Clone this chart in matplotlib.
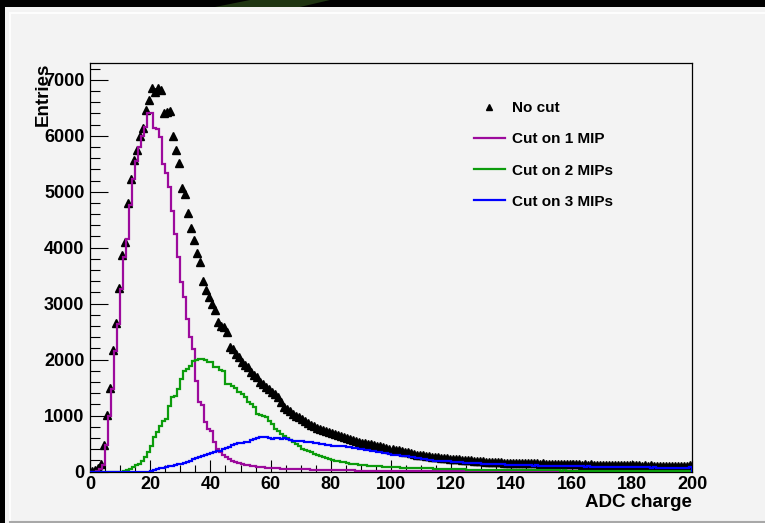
import numpy as np
import matplotlib
matplotlib.use("Agg")
import matplotlib.pyplot as plt
from matplotlib.patches import Rectangle, Polygon
from matplotlib.lines import Line2D
from matplotlib.ticker import MultipleLocator

plt.rcParams['font.family'] = ['Liberation Sans', 'DejaVu Sans']
plt.rcParams['font.weight'] = 'bold'

# ---------------- data (bin width 1 ADC, bins 0..199) ----------------
no_cut = [
    5, 20, 60, 130, 480, 1010, 1500, 2170, 2660, 3280,
    3860, 4100, 4800, 5220, 5575, 5754, 6000, 6140, 6466, 6644,
    6852, 6775, 6852, 6810, 6407, 6425, 6436, 6003, 5754, 5517,
    5071, 4952, 4626, 4359, 4138, 3913, 3735, 3408, 3250, 3112,
    2993, 2891, 2677, 2606, 2578, 2488, 2221, 2191, 2100, 2043,
    1954, 1910, 1865, 1776, 1716, 1687, 1598, 1560, 1509, 1478,
    1420, 1380, 1331, 1250, 1152, 1120, 1080, 1033, 1000, 970,
    944, 900, 860, 825, 805, 785, 765, 740, 720, 700,
    685, 670, 650, 630, 612, 600, 585, 565, 548, 529,
    518, 505, 495, 485, 469, 462, 450, 438, 425, 410,
    400, 390, 378, 362, 355, 345, 332, 318, 303, 298,
    290, 283, 276, 268, 262, 256, 250, 244, 238, 232,
    228, 222, 216, 212, 206, 202, 198, 193, 188, 184,
    180, 177, 173, 170, 167, 164, 162, 160, 158, 156,
    154, 150, 156, 148, 152, 146, 150, 143, 147, 140,
    144, 138, 142, 136, 140, 134, 137, 131, 135, 129,
    133, 127, 130, 125, 129, 122, 127, 121, 125, 118,
    123, 117, 121, 115, 119, 113, 117, 111, 116, 125,
    112, 108, 113, 106, 111, 104, 109, 103, 107, 101,
    106, 100, 104, 98, 103, 97, 101, 96, 100, 110,
]

cut_1mip = [
    0, 0, 10, 40, 120, 470, 1000, 1480, 2150, 2640,
    3260, 3830, 4150, 4770, 5220, 5540, 5790, 5990, 6160, 6410,
    6410, 6140, 6120, 5970, 5490, 5340, 5080, 4650, 4240, 3830,
    3380, 3120, 2720, 2400, 2190, 1620, 1250, 1180, 890, 760,
    730, 530, 410, 340, 290, 255, 220, 190, 165, 145,
    130, 118, 108, 100, 92, 85, 79, 73, 68, 64,
    60, 57, 54, 52, 50, 48, 46, 44, 42, 41,
    40, 38, 37, 35, 34, 32, 31, 29, 28, 26,
    25, 24, 23, 22, 21, 20, 19, 18, 17, 16,
    15, 15, 14, 14, 13, 13, 12, 12, 11, 11,
    10, 10, 9, 9, 8, 8, 7, 7, 6, 6,
    5, 5, 5, 4, 4, 4, 4, 3, 3, 3,
    3, 3, 3, 3, 2, 2, 2, 2, 2, 2,
    2, 2, 2, 2, 1, 1, 1, 1, 1, 1,
    1, 1, 1, 1, 1, 1, 1, 1, 1, 1,
    1, 1, 1, 1, 1, 1, 1, 1, 1, 1,
    1, 0, 0, 0, 0, 0, 0, 0, 0, 0,
    0, 0, 0, 0, 0, 0, 0, 0, 0, 0,
    0, 0, 0, 0, 0, 0, 0, 0, 0, 0,
    0, 0, 0, 0, 0, 0, 0, 0, 0, 0,
]

cut_2mip = [
    0, 0, 0, 0, 0, 0, 0, 0, 0, 0,
    0, 10, 30, 53, 89, 120, 142, 196, 267, 356,
    463, 623, 712, 819, 908, 944, 1176, 1336, 1354, 1478,
    1657, 1800, 1835, 1888, 1977, 2000, 2013, 2013, 2000, 1960,
    1960, 1870, 1870, 1820, 1800, 1568, 1560, 1532, 1500, 1425,
    1380, 1336, 1247, 1200, 1158, 1033, 1010, 990, 980, 900,
    855, 766, 720, 677, 640, 600, 560, 520, 499, 450,
    410, 390, 360, 340, 320, 300, 280, 267, 250, 230,
    210, 196, 185, 175, 165, 150, 142, 135, 128, 120,
    115, 110, 107, 100, 98, 95, 92, 89, 85, 80,
    78, 75, 73, 71, 68, 66, 64, 62, 60, 58,
    57, 56, 55, 54, 53, 50, 48, 46, 44, 42,
    40, 39, 38, 37, 36, 35, 35, 34, 35, 33,
    32, 33, 31, 30, 31, 29, 28, 29, 27, 26,
    27, 25, 25, 24, 24, 23, 22, 23, 21, 21,
    20, 20, 19, 20, 18, 18, 17, 18, 17, 16,
    16, 16, 15, 15, 15, 14, 14, 14, 13, 13,
    13, 12, 12, 12, 11, 11, 11, 11, 10, 10,
    10, 10, 9, 9, 9, 9, 8, 8, 8, 8,
    8, 7, 7, 7, 7, 7, 6, 6, 6, 6,
]

cut_3mip = [
    0, 0, 0, 0, 0, 0, 0, 0, 0, 0,
    0, 0, 0, 0, 0, 0, 0, 0, 0, 0,
    10, 25, 40, 55, 70, 85, 95, 105, 118, 130,
    142, 160, 178, 196, 215, 240, 262, 280, 300, 315,
    330, 350, 362, 374, 400, 425, 445, 470, 495, 505,
    512, 525, 534, 560, 578, 600, 623, 618, 612, 606,
    588, 596, 590, 586, 594, 588, 562, 552, 548, 546,
    540, 536, 534, 526, 515, 506, 499, 490, 480, 470,
    463, 458, 455, 450, 447, 445, 436, 428, 420, 410,
    402, 390, 381, 370, 362, 356, 345, 336, 325, 314,
    303, 298, 290, 284, 276, 271, 267, 258, 250, 241,
    232, 222, 213, 205, 196, 194, 190, 187, 183, 180,
    178, 172, 167, 162, 157, 153, 150, 147, 145, 143,
    142, 139, 137, 135, 136, 131, 129, 128, 125, 122,
    123, 119, 117, 116, 113, 111, 110, 107, 108, 105,
    104, 106, 102, 101, 99, 100, 97, 96, 95, 97,
    93, 92, 91, 90, 89, 90, 88, 87, 89, 86,
    85, 84, 86, 83, 82, 81, 82, 79, 78, 78,
    77, 76, 77, 74, 73, 72, 71, 72, 70, 71,
    69, 70, 68, 70, 67, 69, 66, 68, 70, 72,
]

x_min, x_max = 0, 200
y_max = 7300
x_ticks = [0, 20, 40, 60, 80, 100, 120, 140, 160, 180, 200]
y_ticks = [0, 1000, 2000, 3000, 4000, 5000, 6000, 7000]
labels = ["No cut", "Cut on 1 MIP", "Cut on 2 MIPs", "Cut on 3 MIPs"]
x_title = "ADC charge"
y_title = "Entries"

# ---------------- figure ----------------
W, H = 765, 523
fig = plt.figure(figsize=(W / 100, H / 100), dpi=100, facecolor="black")

def fx(px):
    return px / W

def fy(py):
    return 1 - py / H

bg = "#f3f3f3"
fig.patches.append(Rectangle((fx(5), 0), fx(760), (H - 7) / H, transform=fig.transFigure,
                             facecolor=bg, edgecolor="none", zorder=-10))
# dark green streak in the black band
fig.patches.append(Polygon([(fx(215), fy(7)), (fx(300), fy(7)), (fx(330), fy(0)), (fx(250), fy(0))],
                           closed=True, transform=fig.transFigure, facecolor="#1f3512",
                           edgecolor="none", zorder=-10))
# bevel of canvas
fig.lines.append(Line2D([fx(10), fx(10)], [fy(13), fy(521)], transform=fig.transFigure,
                        color="#fdfdfd", lw=1.5, zorder=-9))
fig.lines.append(Line2D([fx(10), fx(765)], [fy(13), fy(13)], transform=fig.transFigure,
                        color="#fdfdfd", lw=1.5, zorder=-9))
fig.lines.append(Line2D([fx(10), fx(765)], [fy(521.5), fy(521.5)], transform=fig.transFigure,
                        color="#a8a8a8", lw=1.5, zorder=-9))

ax_l, ax_r, ax_t, ax_b = 90, 692, 63, 471.5
ax = fig.add_axes([fx(ax_l), fy(ax_b), (ax_r - ax_l) / W, (ax_b - ax_t) / H])
ax.set_zorder(1)
ax.set_facecolor(bg)

edges_m = np.arange(len(cut_1mip) + 1)
edges_g = np.arange(len(cut_2mip) + 1)
edges_b = np.arange(len(cut_3mip) + 1)
centers = np.arange(len(no_cut)) + 0.5

magenta = "#9c0a9c"
green = "#0c9c0c"
blue = "#0000ff"

ax.plot(centers, no_cut, linestyle="none", marker="^", color="black", markersize=5.2,
        zorder=3, label=labels[0])
ax.stairs(cut_1mip, edges_m, color=magenta, lw=1.6, zorder=4, label=labels[1])
ax.stairs(cut_2mip, edges_g, color=green, lw=1.6, zorder=4, label=labels[2])
ax.stairs(cut_3mip, edges_b, color=blue, lw=1.6, zorder=5, label=labels[3])

ax.set_xlim(x_min, x_max)
ax.set_ylim(0, y_max)
ax.set_xticks(x_ticks)
ax.set_yticks(y_ticks)
ax.xaxis.set_minor_locator(MultipleLocator(5))
ax.yaxis.set_minor_locator(MultipleLocator(200))

for side in ["top", "right", "left", "bottom"]:
    ax.spines[side].set_linewidth(0.9)
    ax.spines[side].set_color("black")

ax.tick_params(axis="y", which="major", direction="in", length=13, width=0.8,
               labelsize=13, pad=4, left=True, right=False)
ax.tick_params(axis="y", which="minor", direction="in", length=7, width=0.8,
               left=True, right=False)
ax.tick_params(axis="x", which="major", direction="in", length=8.6, width=0.8,
               labelsize=13, pad=3, bottom=True, top=False)
ax.tick_params(axis="x", which="minor", direction="in", length=5, width=0.8,
               bottom=True, top=False)
for lab in ax.get_xticklabels() + ax.get_yticklabels():
    lab.set_fontweight("bold")

ax.text(1.0, -0.077, x_title, transform=ax.transAxes, ha="right", va="center",
        fontsize=13.5, fontweight="bold")
ax.text(-0.078, 1.002, y_title, transform=ax.transAxes, ha="center", va="top",
        rotation=90, fontsize=13.5, fontweight="bold")

leg = ax.legend(loc="upper left", bbox_to_anchor=((474 - ax_l) / (ax_r - ax_l), (ax_b - 101) / (ax_b - ax_t)),
                frameon=False, prop={"weight": "bold", "size": 11},
                handlelength=2.0, handletextpad=0.5, labelspacing=1.13,
                borderpad=0, borderaxespad=0, numpoints=1, markerscale=0.9)

fig.savefig("out.png", dpi=100, facecolor=fig.get_facecolor())
